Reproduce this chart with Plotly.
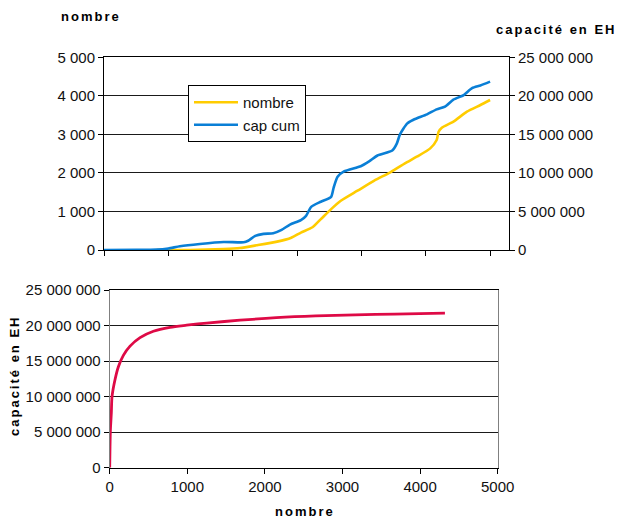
import plotly.graph_objects as go

# ---- data (top chart) : position along the (unlabelled) x axis ----
pos_nombre = [0.82, 1.34, 1.86, 2.11, 2.37, 2.69, 2.91, 3.06, 3.24, 3.37, 3.53, 3.68,
              3.94, 4.20, 4.45, 4.71, 4.86, 5.07, 5.17, 5.20, 5.25, 5.43, 5.64, 5.85, 6.00]
nombre = [0, 0, 26, 52, 122, 217, 320, 452, 590, 800, 1061, 1278,
          1539, 1800, 2017, 2278, 2420, 2636, 2853, 3069, 3173, 3329, 3589, 3762, 3892]

pos_cap = [0.0, 0.5, 0.82, 1.0, 1.18, 1.49, 1.86, 2.17, 2.24, 2.35, 2.48, 2.63, 2.76,
           2.89, 3.06, 3.14, 3.22, 3.37, 3.53, 3.57, 3.63, 3.73, 3.99, 4.12, 4.25,
           4.48, 4.55, 4.60, 4.71, 4.81, 5.02, 5.17, 5.30, 5.43, 5.59, 5.72, 5.85, 6.00]
cap_cum = [0, 10000, 50000, 200000, 480000, 780000, 1040000, 1000000, 1200000, 1830000,
           2090000, 2170000, 2600000, 3300000, 3870000, 4430000, 5600000, 6260000,
           6900000, 8130000, 9500000, 10200000, 10870000, 11500000, 12260000, 12900000,
           13800000, 15000000, 16400000, 16900000, 17600000, 18250000, 18600000,
           19500000, 20100000, 21000000, 21350000, 21850000]

# ---- data (bottom chart) ----
nombre_cum = [0, 4, 9, 21, 30, 69, 112, 176, 262, 391, 563, 777, 992, 1250, 1680,
              2147, 2655, 3162, 3670, 4320]
capacite_cum = [0, 2950000, 5300000, 7700000, 10000000, 12400000, 14200000, 15800000,
                17100000, 18300000, 19200000, 19750000, 20050000, 20350000, 20750000,
                21100000, 21350000, 21500000, 21620000, 21750000]

# ---- tick labels ----
left_vals = [0, 1000, 2000, 3000, 4000, 5000]
left_text = ["0", "1 000", "2 000", "3 000", "4 000", "5 000"]
eh_vals = [0, 5000000, 10000000, 15000000, 20000000, 25000000]
eh_text = ["0", "5 000 000", "10 000 000", "15 000 000", "20 000 000", "25 000 000"]
top_x_ticks = [0, 1, 2, 3, 4, 5, 6]
bottom_x_ticks = [0, 1000, 2000, 3000, 4000, 5000]

W, H = 618, 520
FONT = "Liberation Sans, Arial, sans-serif"
YELLOW = "#FFCC00"
BLUE = "#0A7FD6"
RED = "#DE0A46"


def px_x(p):
    return p / W


def px_y(p):
    return 1 - p / H


fig = go.Figure()
fig.add_trace(go.Scatter(x=pos_nombre, y=nombre, name="nombre", mode="lines",
                         line=dict(color=YELLOW, width=2.6, shape="spline", smoothing=0.6),
                         xaxis="x", yaxis="y"))
fig.add_trace(go.Scatter(x=pos_cap, y=cap_cum, name="cap cum", mode="lines",
                         line=dict(color=BLUE, width=2.6, shape="spline", smoothing=0.6),
                         xaxis="x", yaxis="y2"))
fig.add_trace(go.Scatter(x=nombre_cum, y=capacite_cum, name="capacité", mode="lines",
                         showlegend=False,
                         line=dict(color=RED, width=2.8, shape="spline", smoothing=0.8),
                         xaxis="x2", yaxis="y3"))

tickfont = dict(family=FONT, size=15, color="#111111")

fig.update_layout(
    width=W, height=H,
    margin=dict(l=0, r=0, t=0, b=0),
    paper_bgcolor="white", plot_bgcolor="white",
    font=dict(family=FONT, color="#000000"),
    showlegend=True,
    legend=dict(x=px_x(188), y=px_y(85), xanchor="left", yanchor="top",
                bgcolor="white", bordercolor="#000000", borderwidth=1,
                font=dict(family=FONT, size=15, color="#111111"),
                itemwidth=44, tracegroupgap=0),
    xaxis=dict(domain=[px_x(104), px_x(509)], anchor="y", range=[0, 6.294],
               tickvals=top_x_ticks, showticklabels=False, ticks="outside",
               ticklen=5, tickcolor="#000000", showline=True, linecolor="#000000",
               linewidth=1, mirror=True, showgrid=False, zeroline=False,
               automargin=False, fixedrange=True),
    yaxis=dict(domain=[px_y(250), px_y(57.3)], anchor="x", range=[0, 5000],
               tickvals=left_vals, ticktext=left_text, ticks="outside", ticklen=5,
               tickcolor="#000000", showline=True, linecolor="#000000", linewidth=1,
               showgrid=True, gridcolor="#1a1a1a", gridwidth=1, zeroline=False,
               tickfont=tickfont, automargin=False),
    yaxis2=dict(overlaying="y", side="right", anchor="x", range=[0, 25000000],
                tickvals=eh_vals, ticktext=eh_text, ticks="outside", ticklen=5,
                tickcolor="#000000", showline=True, linecolor="#000000", linewidth=1,
                showgrid=False, zeroline=False, tickfont=tickfont, automargin=False),
    xaxis2=dict(domain=[px_x(109.7), px_x(497.7)], anchor="y3", range=[0, 5000],
                tickvals=bottom_x_ticks, ticks="outside", ticklen=5,
                tickcolor="#000000", showline=True, linecolor="#000000", linewidth=1,
                mirror=True, showgrid=False, zeroline=False, tickfont=tickfont,
                automargin=False),
    yaxis3=dict(domain=[px_y(467.7), px_y(290)], anchor="x2", range=[0, 25000000],
                tickvals=eh_vals, ticktext=eh_text, ticks="outside", ticklen=5,
                tickcolor="#000000", showline=True, linecolor="#808080", linewidth=1,
                mirror=True, showgrid=True, gridcolor="#1a1a1a", gridwidth=1,
                zeroline=False, tickfont=tickfont, automargin=False),
)

title_font = dict(family=FONT, size=13, color="#000000")
ann = [
    dict(text="<b><span style='letter-spacing:2px'>nombre</span></b>",
         x=px_x(91), y=px_y(17)),
    dict(text="<b><span style='letter-spacing:2px'>capacité en EH</span></b>",
         x=px_x(556), y=px_y(29)),
    dict(text="<b><span style='letter-spacing:2px'>nombre</span></b>",
         x=px_x(305), y=px_y(511)),
    dict(text="<b><span style='letter-spacing:2px'>capacité en EH</span></b>",
         x=px_x(14), y=px_y(376), textangle=-90),
]
for a in ann:
    fig.add_annotation(xref="paper", yref="paper", showarrow=False,
                       xanchor="center", yanchor="middle", font=title_font, **a)

fig.write_html("out.html",
               config={"displayModeBar": False},
               post_script="document.body.style.margin='0';"
                           "document.body.style.overflow='hidden';")
